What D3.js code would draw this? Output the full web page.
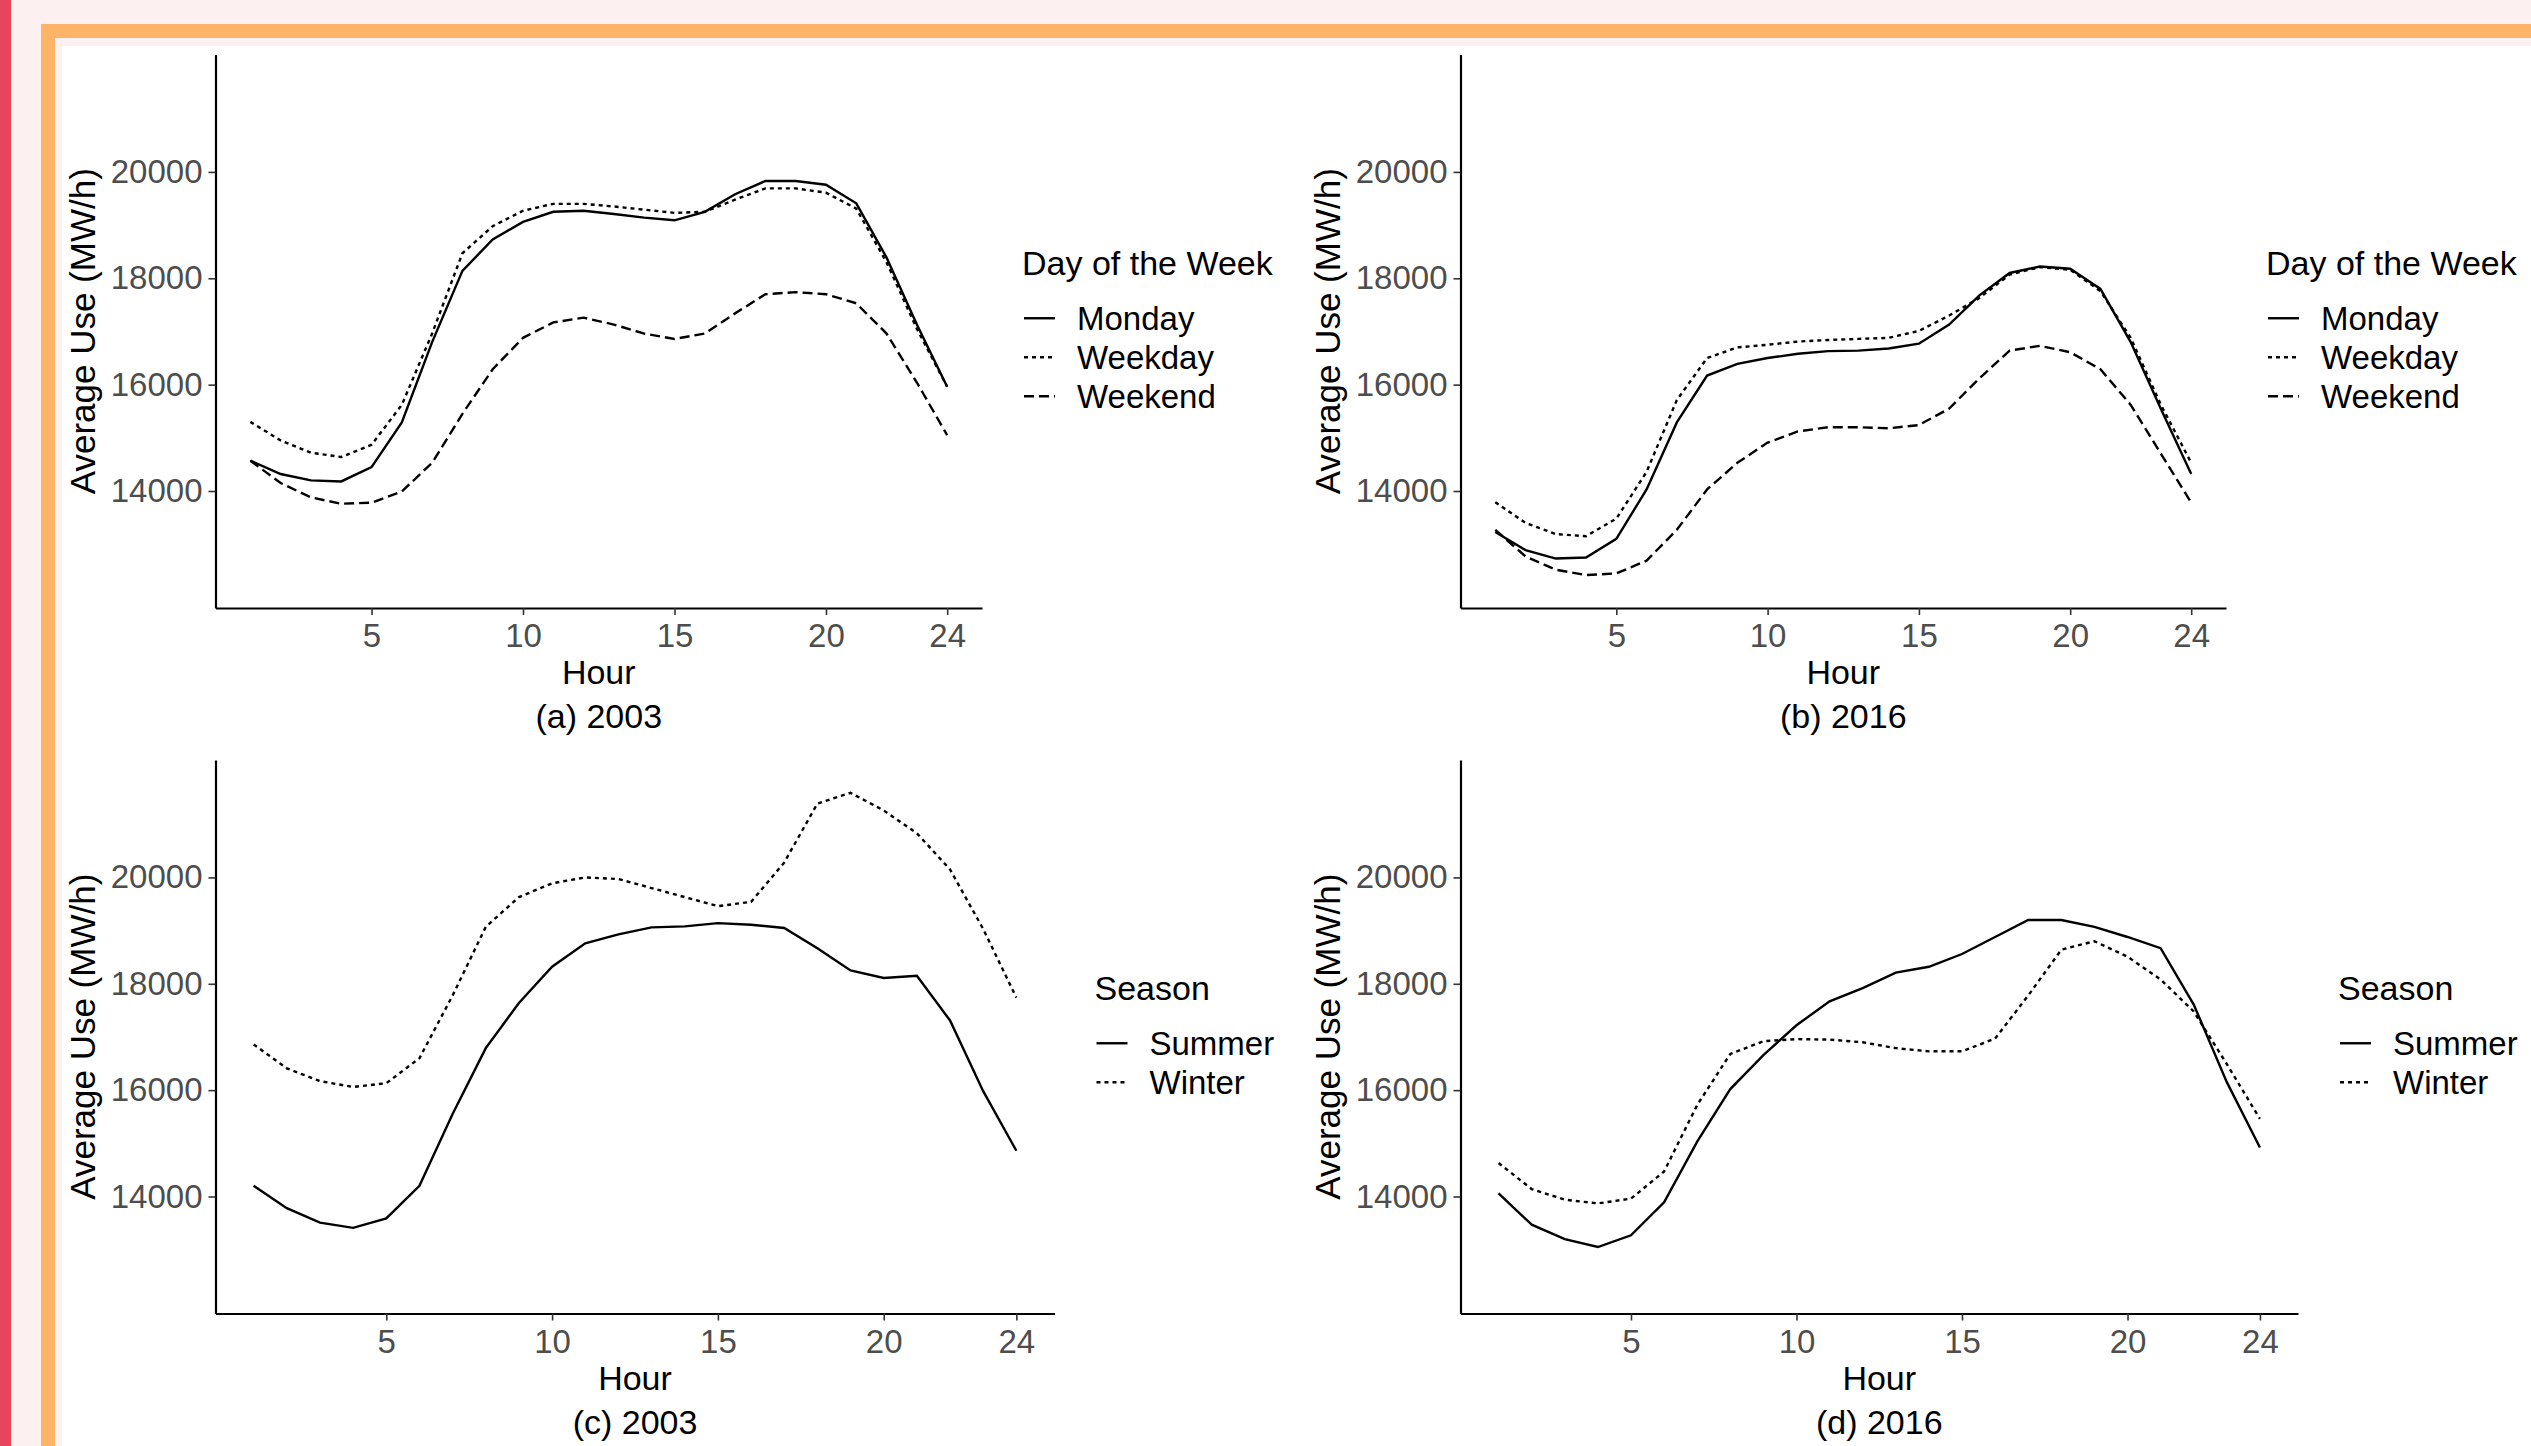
<!DOCTYPE html>
<html>
<head>
<meta charset="utf-8">
<script src="https://cdn.jsdelivr.net/npm/d3@7"></script>
<style>
  body { margin: 0; background: #fdf0f0; overflow: hidden; }
  svg { display: block; font-family: 'Liberation Sans', Arial, sans-serif; }
</style>
</head>
<body>
<svg id="chart" width="2531" height="1446"></svg>
<script>
// hour of day, shared by every series
let hours = [1, 2, 3, 4, 5, 6, 7, 8, 9, 10, 11, 12, 13, 14, 15, 16, 17, 18, 19, 20, 21, 22, 23, 24]

// (a) 2003 by day of the week
let monday2003 = [14570, 14320, 14200, 14180, 14450, 15290, 16800, 18140, 18730, 19060, 19250, 19270, 19210, 19140, 19090, 19250, 19580, 19830, 19830, 19760, 19410, 18390, 17130, 15960]
let weekday2003 = [15300, 14950, 14720, 14640, 14870, 15620, 16960, 18470, 18980, 19270, 19400, 19400, 19350, 19290, 19230, 19250, 19480, 19690, 19690, 19610, 19310, 18300, 17050, 15960]
let weekend2003 = [14570, 14150, 13880, 13760, 13780, 13990, 14530, 15450, 16290, 16880, 17170, 17260, 17130, 16960, 16860, 16960, 17340, 17700, 17740, 17700, 17530, 16960, 16040, 15050]

// (b) 2016 by day of the week
let monday2016 = [13230, 12890, 12730, 12750, 13100, 14030, 15290, 16170, 16390, 16500, 16580, 16630, 16640, 16680, 16770, 17130, 17680, 18100, 18220, 18180, 17800, 16800, 15540, 14320]
let weekday2016 = [13790, 13400, 13190, 13150, 13480, 14360, 15710, 16500, 16700, 16750, 16810, 16840, 16860, 16880, 17010, 17300, 17630, 18070, 18210, 18160, 17760, 16880, 15620, 14530]
let weekend2016 = [13270, 12770, 12520, 12420, 12450, 12690, 13270, 14030, 14530, 14910, 15120, 15200, 15200, 15180, 15240, 15550, 16120, 16640, 16730, 16610, 16290, 15620, 14700, 13780]

// (c) 2003 and (d) 2016 by season
let summer2003 = [14200, 13780, 13510, 13410, 13590, 14200, 15550, 16790, 17640, 18320, 18760, 18930, 19060, 19080, 19140, 19110, 19050, 18670, 18250, 18110, 18150, 17310, 15980, 14860]
let winter2003 = [16860, 16410, 16170, 16060, 16130, 16600, 17780, 19070, 19630, 19890, 20000, 19970, 19800, 19630, 19460, 19540, 20280, 21390, 21590, 21260, 20830, 20150, 19030, 17740]
let summer2016 = [14060, 13470, 13200, 13050, 13270, 13890, 15030, 16020, 16660, 17220, 17670, 17920, 18210, 18320, 18560, 18880, 19200, 19200, 19070, 18880, 18670, 17610, 16150, 14920]
let winter2016 = [14630, 14140, 13940, 13870, 13960, 14470, 15720, 16680, 16920, 16960, 16950, 16900, 16790, 16730, 16730, 16970, 17780, 18640, 18800, 18510, 18080, 17480, 16490, 15460]

let dayLabels = ['Monday', 'Weekday', 'Weekend']
let seasonLabels = ['Summer', 'Winter']
let xTicks = [5, 10, 15, 20, 24]
let yTicks = [14000, 16000, 18000, 20000]

let dashes = { solid: null, dotted: '4,4', dashed: '10,5' }

let panels = [
  { caption: '(a) 2003', title: 'Day of the Week', labels: dayLabels, series: [monday2003, weekday2003, weekend2003], types: ['solid', 'dotted', 'dashed'], x0: 215.5, x1: 982, y0: 54.5, y1: 608 },
  { caption: '(b) 2016', title: 'Day of the Week', labels: dayLabels, series: [monday2016, weekday2016, weekend2016], types: ['solid', 'dotted', 'dashed'], x0: 1460.5, x1: 2226, y0: 54.5, y1: 608 },
  { caption: '(c) 2003', title: 'Season', labels: seasonLabels, series: [summer2003, winter2003], types: ['solid', 'dotted'], x0: 215.5, x1: 1054.5, y0: 760, y1: 1313.5 },
  { caption: '(d) 2016', title: 'Season', labels: seasonLabels, series: [summer2016, winter2016], types: ['solid', 'dotted'], x0: 1460.5, x1: 2298, y0: 760, y1: 1313.5 }
]

let svg = d3.select('#chart')

// page frame
svg.append('rect').attr('x', 0).attr('y', 0).attr('width', 11).attr('height', 1446).attr('fill', '#e8445c')
svg.append('rect').attr('x', 41).attr('y', 24).attr('width', 2600).attr('height', 1500).attr('fill', '#ffb366')
svg.append('rect').attr('x', 55).attr('y', 38).attr('width', 2600).attr('height', 1500).attr('fill', '#fdf0f0')
svg.append('rect').attr('x', 62).attr('y', 46).attr('width', 2600).attr('height', 1500).attr('fill', '#ffffff')

panels.forEach(function (p) {
  let x = d3.scaleLinear().domain([-0.15, 25.15]).range([p.x0, p.x1])
  let y = d3.scaleLinear().domain([11800, 22208]).range([p.y1, p.y0])

  let g = svg.append('g')

  // axes, no end ticks
  let xAxis = g.append('g')
    .attr('transform', 'translate(0,' + p.y1 + ')')
    .call(d3.axisBottom(x).tickValues(xTicks).tickSizeInner(7).tickSizeOuter(0).tickPadding(6))
  let yAxis = g.append('g')
    .attr('transform', 'translate(' + p.x0 + ',0)')
    .call(d3.axisLeft(y).tickValues(yTicks).tickSizeInner(7).tickSizeOuter(0).tickPadding(6).tickFormat(d3.format('d')))

  ;[xAxis, yAxis].forEach(function (a) {
    a.select('.domain').attr('stroke', '#000').attr('stroke-width', 2.2)
    a.selectAll('.tick line').attr('stroke', '#333').attr('stroke-width', 1.6)
    a.selectAll('.tick text').attr('fill', '#4d4d4d').style('font-size', '33px')
  })
  xAxis.selectAll('.tick text').attr('dy', '0.8em')

  // lines
  let line = d3.line()
    .x(function (d, i) { return x(hours[i]) })
    .y(function (d) { return y(d) })

  p.series.forEach(function (s, i) {
    g.append('path')
      .datum(s)
      .attr('d', line)
      .attr('fill', 'none')
      .attr('stroke', '#000')
      .attr('stroke-width', 2.4)
      .attr('stroke-dasharray', dashes[p.types[i]])
  })

  // titles
  let cx = (p.x0 + p.x1) / 2
  let cy = (p.y0 + p.y1) / 2
  g.append('text').attr('x', cx).attr('y', p.y1 + 76).attr('text-anchor', 'middle')
    .style('font-size', '34px').text('Hour')
  g.append('text').attr('x', cx).attr('y', p.y1 + 120).attr('text-anchor', 'middle')
    .style('font-size', '34px').text(p.caption)
  g.append('text')
    .attr('transform', 'translate(' + (p.x0 - 121) + ',' + cy + ') rotate(-90)')
    .attr('text-anchor', 'middle')
    .style('font-size', '35px').text('Average Use (MW/h)')

  // legend, centred on the panel
  let lx = p.x1 + 40
  let ty = cy - 56 + (3 - p.labels.length) * 19.5
  g.append('text').attr('x', lx).attr('y', ty).style('font-size', '34px').text(p.title)
  p.labels.forEach(function (label, i) {
    let by = ty + 55 + i * 39
    g.append('line')
      .attr('x1', lx + 2).attr('x2', lx + 33)
      .attr('y1', by - 12).attr('y2', by - 12)
      .attr('stroke', '#000').attr('stroke-width', 2.4)
      .attr('stroke-dasharray', dashes[p.types[i]])
    g.append('text').attr('x', lx + 55).attr('y', by).style('font-size', '33px').text(label)
  })
})
</script>
</body>
</html>
